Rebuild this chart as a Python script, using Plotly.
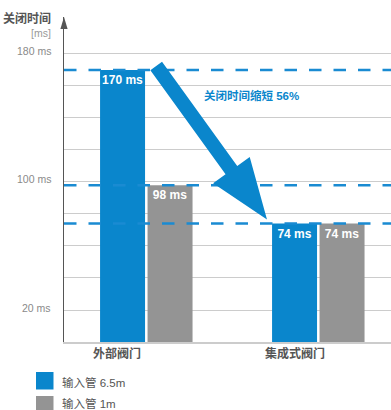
import plotly.graph_objects as go
import math

# ---------------- data ----------------
categories = ["外部阀门", "集成式阀门"]
series_names = ["输入管 6.5m", "输入管 1m"]
values_65m = [170, 74]
values_1m = [98, 74]
ref_lines = [170, 98, 74]
grid_vals = [20, 40, 60, 80, 100, 120, 140, 160, 180]
tick_labels = {180: "180 ms", 100: "100 ms", 20: "20 ms"}
axis_title = "关闭时间"
axis_unit = "[ms]"
reduction_text = "关闭时间缩短 56%"
arrow_from = (0.0575, 172.5)
arrow_to = (0.7017, 76.6)

# ---------------- style ----------------
BLUE = "#0a86cc"
GRAY = "#949494"
DASH_BLUE = "#1a8bd2"
DARK = "#555555"
TICK = "#8a8a8a"
FONT = "Liberation Sans, Arial, Noto Sans CJK SC, sans-serif"

W, H = 391, 410
ML, MR, MT, MB = 64, 0, 17, 68
X0, X1 = -0.4785, 1.4227
Y0, Y1 = 0, 203.1
PW = W - ML - MR
PH = H - MT - MB
PXU = PW / (X1 - X0)
PYU = PH / (Y1 - Y0)
BAR_W = 0.2616
GAP = 0.0145


def d2p(x, y):
    return ML + (x - X0) * PXU, MT + PH - (y - Y0) * PYU


def p2d(px, py):
    return X0 + (px - ML) / PXU, Y0 + (MT + PH - py) / PYU


def paper_x(px):
    return (px - ML) / PW


def paper_y(py):
    return (MT + PH - py) / PH


fig = go.Figure()
fig.add_bar(
    x=categories, y=values_65m, name=series_names[0],
    marker=dict(color=BLUE, line=dict(width=0)),
    width=BAR_W, offset=-BAR_W - GAP / 2,
    text=[f"<b>{v} ms</b>" for v in values_65m],
    textposition="inside", insidetextanchor="end", constraintext="none",
    textfont=dict(color="white", size=12, family=FONT), textangle=0,
    hoverinfo="skip",
)
fig.add_bar(
    x=categories, y=values_1m, name=series_names[1],
    marker=dict(color=GRAY, line=dict(width=0)),
    width=BAR_W, offset=GAP / 2,
    text=[f"<b>{v} ms</b>" for v in values_1m],
    textposition="inside", insidetextanchor="end", constraintext="none",
    textfont=dict(color="white", size=12, family=FONT), textangle=0,
    hoverinfo="skip",
)

shapes = []
# dashed reference lines
for v in ref_lines:
    shapes.append(dict(type="line", xref="paper", yref="y", x0=0, x1=1, y0=v, y1=v,
                       line=dict(color=DASH_BLUE, width=2.5, dash="12.5px,12px"), layer="above"))

# big arrow (computed in pixel space from data anchors)
sx, sy = d2p(*arrow_from)
tx, ty = d2p(*arrow_to)
dx, dy = tx - sx, ty - sy
ln = math.hypot(dx, dy)
ux, uy = dx / ln, dy / ln
nx, ny = uy, -ux
w_shaft, w_head, head_len = 7.2, 22.6, 60.8
bx, by = tx - head_len * ux, ty - head_len * uy
pts = [
    (sx + w_shaft * nx, sy + w_shaft * ny),
    (bx + w_shaft * nx, by + w_shaft * ny),
    (bx + w_head * nx, by + w_head * ny),
    (tx, ty),
    (bx - w_head * nx, by - w_head * ny),
    (bx - w_shaft * nx, by - w_shaft * ny),
    (sx - w_shaft * nx, sy - w_shaft * ny),
]
dpts = [p2d(px, py) for px, py in pts]
path = "M " + " L ".join(f"{x:.5f},{y:.4f}" for x, y in dpts) + " Z"
shapes.append(dict(type="path", xref="x", yref="y", path=path,
                   fillcolor=BLUE, line=dict(width=0), layer="above"))

# y-axis arrow head
tip_y = paper_y(MT)
base_y = paper_y(MT + 12)
hw = 3.6 / PW
shapes.append(dict(type="path", xref="paper", yref="paper",
                   path=f"M 0,{tip_y} L {hw},{base_y} L {-hw},{base_y} Z",
                   fillcolor=DARK, line=dict(width=0), layer="above"))

# legend squares
leg_colors = [BLUE, GRAY]
leg_top = [372, 396]
for c, t in zip(leg_colors, leg_top):
    shapes.append(dict(type="rect", xref="paper", yref="paper",
                       x0=paper_x(36), x1=paper_x(53.5), y0=paper_y(t), y1=paper_y(t + 17.5),
                       fillcolor=c, line=dict(width=0)))

annotations = []
# tick labels
for v, t in tick_labels.items():
    annotations.append(dict(xref="paper", yref="y", x=paper_x(53), y=v, text=t,
                            xanchor="right", yanchor="middle", yshift=2.5, showarrow=False,
                            font=dict(size=10.5, color=TICK, family=FONT)))
# axis title
annotations.append(dict(xref="paper", yref="paper", x=paper_x(53), y=paper_y(18), text=f"<b>{axis_title}</b>",
                        xanchor="right", yanchor="middle", showarrow=False,
                        font=dict(size=12, color=DARK, family=FONT)))
annotations.append(dict(xref="paper", yref="paper", x=paper_x(52.5), y=paper_y(33), text=axis_unit,
                        xanchor="right", yanchor="middle", showarrow=False,
                        font=dict(size=10.5, color="#999999", family=FONT)))
# category labels
for i, c in enumerate(categories):
    annotations.append(dict(xref="x", yref="paper", x=i - 0.32, y=paper_y(353), text=f"<b>{c}</b>",
                            xanchor="left", yanchor="middle", showarrow=False,
                            font=dict(size=12, color=DARK, family=FONT)))
# reduction text
rx, ry = p2d(201.5, 95)
annotations.append(dict(xref="x", yref="y", x=rx, y=ry, text=f"<b>{reduction_text}</b>",
                        xanchor="left", yanchor="middle", showarrow=False,
                        font=dict(size=11.5, color=BLUE, family=FONT)))
# legend texts
for name, t in zip(series_names, [383, 403.5]):
    annotations.append(dict(xref="paper", yref="paper", x=paper_x(60), y=paper_y(t), text=name,
                            xanchor="left", yanchor="middle", showarrow=False,
                            font=dict(size=11.5, color=DARK, family=FONT)))

fig.update_layout(
    width=W, height=H,
    margin=dict(l=ML, r=MR, t=MT, b=MB, pad=0),
    paper_bgcolor="white", plot_bgcolor="white",
    barmode="overlay", showlegend=False,
    font=dict(family=FONT),
    xaxis=dict(type="category", categoryarray=categories, range=[X0, X1],
               showticklabels=False, showgrid=False, zeroline=False, ticks="",
               showline=True, linecolor="#cccccc", linewidth=2),
    yaxis=dict(range=[Y0, Y1], tickvals=grid_vals, showticklabels=False, ticks="",
               showgrid=True, gridcolor="#cccccc", gridwidth=1, zeroline=False,
               showline=True, linecolor=DARK, linewidth=1.3),
    shapes=shapes, annotations=annotations,
)

fig.write_html("out.html")
